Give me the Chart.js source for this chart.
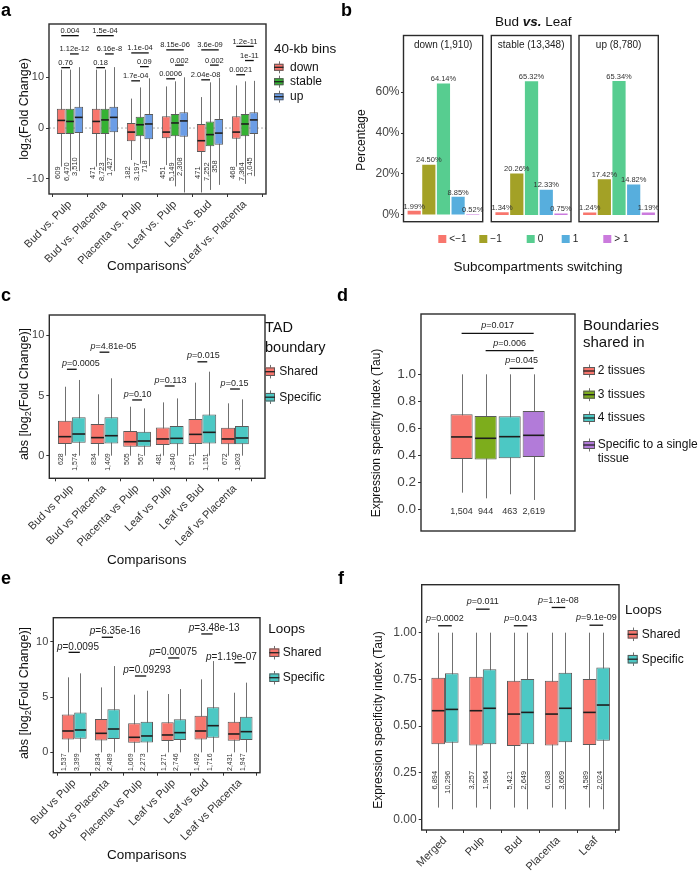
<!DOCTYPE html>
<html>
<head>
<meta charset="utf-8">
<title>Bins, TAD boundaries and loops</title>
<script src="https://cdn.jsdelivr.net/npm/chart.js@4.4.1/dist/chart.umd.min.js"></script>
<style>
  html, body { margin: 0; padding: 0; background: #fff; }
  #figure { position: relative; width: 699px; height: 877px; overflow: hidden; }
  #figure canvas { position: absolute; left: 0; top: 0; }
</style>
</head>
<body>
<div id="figure"></div>
<script>
// ---- a: log2 fold change by 40-kb bin class ----
const aComparisons = ['Bud vs. Pulp', 'Bud vs. Placenta', 'Placenta vs. Pulp', 'Leaf vs. Pulp', 'Leaf vs. Bud', 'Leaf vs. Placenta'];
const aBins = ['down', 'stable', 'up'];
// box stats per comparison: [lower whisker, q1, median, q3, upper whisker]
const aDown = [[-7.6, -1.2, 1.5, 3.8, 11.5], [-7.6, -1.2, 1.3, 3.8, 11.5], [-6.3, -2.6, -0.8, 1.0, 5.8], [-7.3, -2.0, -0.8, 2.3, 8.2], [-12.7, -4.7, -2.5, 0.8, 6.1], [-7.6, -2.1, -0.8, 2.3, 8.4]];
const aStable = [[-8.5, -1.2, 1.3, 3.8, 11.5], [-8.5, -1.2, 1.6, 3.8, 11.5], [-7.0, -1.6, 0.65, 2.2, 8.0], [-11.5, -1.6, 1.0, 2.75, 9.2], [-12.2, -3.6, -1.3, 1.3, 9.0], [-11.0, -1.6, 0.8, 2.75, 9.2]];
const aUp = [[-8.5, -1.0, 2.1, 4.2, 12.0], [-8.5, -0.85, 2.1, 4.2, 12.0], [-7.5, -2.2, 0.8, 2.75, 9.8], [-12.7, -1.7, 1.4, 3.1, 10.0], [-11.2, -3.3, -1.0, 1.8, 9.9], [-9.5, -1.2, 1.6, 3.1, 9.3]];
const aDownN = ['609', '471', '182', '451', '471', '468'];
const aStableN = ['6,470', '8,723', '3,197', '5,149', '7,252', '7,364'];
const aUpN = ['3,510', '1,427', '718', '2,308', '358', '1,045'];
const aTicks = [-10, 0, 10];
// [comparison, from bin, to bin, bracket height, p-value]
const aPvals = [
  [0, 0, 2, 18.2, '0.004'], [0, 1, 2, 14.6, '1.12e-12'], [0, 0, 1, 11.9, '0.76'],
  [1, 0, 2, 18.2, '1.5e-04'], [1, 1, 2, 14.6, '6.16e-8'], [1, 0, 1, 11.9, '0.18'],
  [2, 0, 2, 14.8, '1.1e-04'], [2, 1, 2, 12.1, '0.09'], [2, 0, 1, 9.3, '1.7e-04'],
  [3, 0, 2, 15.4, '8.15e-06'], [3, 1, 2, 12.4, '0.002'], [3, 0, 1, 9.7, '0.0006'],
  [4, 0, 2, 15.4, '3.6e-09'], [4, 1, 2, 12.4, '0.002'], [4, 0, 1, 9.5, '2.04e-08'],
  [5, 0, 2, 16.1, '1.2e-11'], [5, 1, 2, 13.3, '1e-11'], [5, 0, 1, 10.5, '0.0021']
];

// ---- b: subcompartment switching, Bud vs. Leaf ----
const bLevels = ['<\u22121', '\u22121', '0', '1', '> 1'];
const bFacets = ['down (1,910)', 'stable (13,348)', 'up (8,780)'];
const bDown = [1.99, 24.50, 64.14, 8.85, 0.52];
const bStable = [1.34, 20.26, 65.32, 12.33, 0.75];
const bUp = [1.24, 17.42, 65.34, 14.82, 1.19];
const bTicks = [0, 20, 40, 60];

// ---- c: TAD boundaries ----
const cComparisons = ['Bud vs Pulp', 'Bud vs Placenta', 'Placenta vs Pulp', 'Leaf vs Pulp', 'Leaf vs Bud', 'Leaf vs Placenta'];
const cGroups = ['Shared', 'Specific'];
const cShared = [[0, 0.97, 1.58, 2.91, 5.73], [0, 0.97, 1.50, 2.63, 5.10], [0, 0.75, 1.16, 2.05, 4.07], [0, 0.89, 1.39, 2.35, 4.43], [0, 0.97, 1.77, 3.05, 6.07], [0, 0.94, 1.39, 2.33, 4.35]];
const cSpecific = [[0, 1.08, 1.80, 3.20, 6.29], [0, 1.02, 1.66, 3.20, 6.43], [0, 0.75, 1.22, 1.99, 3.93], [0, 0.94, 1.44, 2.47, 4.76], [0, 1.02, 1.94, 3.43, 6.98], [0, 0.94, 1.47, 2.47, 4.68]];
const cSharedN = ['628', '834', '505', '481', '571', '672'];
const cSpecificN = ['1,574', '1,409', '567', '1,840', '1,151', '1,803'];
const cTicks = [0, 5, 10];
// [comparison, bracket height, p-value, label start relative to comparison]
const cPvals = [[0, 7.18, '0.0005', -0.3], [1, 8.6, '4.81e-05', -0.43], [2, 4.63, '0.10', -0.41], [3, 5.79, '0.113', -0.47], [4, 7.8, '0.015', -0.47], [5, 5.54, '0.15', -0.44]];

// ---- d: boundaries shared in n tissues ----
const dGroups = ['2 tissues', '3 tissues', '4 tissues', 'Specific to a single\ntissue'];
const dStats = [[0.123, 0.373, 0.536, 0.704, 1.0], [0.081, 0.368, 0.526, 0.691, 1.0], [0.111, 0.378, 0.538, 0.689, 1.0], [0.069, 0.388, 0.548, 0.728, 1.0]];
const dN = ['1,504', '944', '463', '2,619'];
const dTicks = [0, 0.2, 0.4, 0.6, 0.8, 1.0];
// [from group, to group, bracket height, p-value]
const dPvals = [[0, 3, 1.304, '0.017'], [1, 3, 1.175, '0.006'], [2, 3, 1.044, '0.045']];

// ---- e: loops, fold change ----
const eComparisons = cComparisons;
const eShared = [[0, 1.17, 1.93, 3.43, 6.78], [0, 1.08, 1.72, 3.01, 5.87], [0, 0.87, 1.36, 2.62, 5.21], [0, 1.02, 1.57, 2.71, 5.27], [0, 1.17, 1.93, 3.31, 6.60], [0, 1.05, 1.66, 2.77, 5.39]];
const eSpecific = [[0, 1.23, 2.02, 3.61, 7.14], [0, 1.20, 2.11, 3.89, 7.80], [0, 0.90, 1.48, 2.77, 5.57], [0, 1.11, 1.78, 2.98, 5.72], [0, 1.33, 2.41, 4.07, 8.25], [0, 1.11, 1.87, 3.22, 6.30]];
const eSharedN = ['1,537', '2,834', '1,069', '1,271', '1,492', '2,431'];
const eSpecificN = ['3,399', '2,489', '2,273', '2,746', '1,716', '1,947'];
const eTicks = [0, 5, 10];
const ePvals = [[0, 9.04, '0.0095', -0.52], [1, 10.4, '6.35e-16', -0.53], [2, 6.9, '0.09293', -0.52], [3, 8.53, '0.00075', -0.73], [4, 10.7, '3.48e-13', -0.55], [5, 8.1, '1.19e-07', -1.03]];

// ---- f: loops, tissue specificity ----
const fTissues = ['Merged', 'Pulp', 'Bud', 'Placenta', 'Leaf'];
const fShared = [[0.063, 0.402, 0.582, 0.759, 1.0], [0.063, 0.395, 0.582, 0.764, 1.0], [0.063, 0.393, 0.564, 0.743, 1.0], [0.063, 0.395, 0.564, 0.743, 1.0], [0.063, 0.398, 0.573, 0.752, 1.0]];
const fSpecific = [[0.054, 0.411, 0.589, 0.782, 1.0], [0.054, 0.402, 0.595, 0.804, 1.0], [0.054, 0.402, 0.573, 0.752, 1.0], [0.054, 0.4125, 0.595, 0.786, 1.0], [0.054, 0.421, 0.6125, 0.814, 1.0]];
const fSharedN = ['6,894', '3,257', '5,421', '6,038', '4,589'];
const fSpecificN = ['10,296', '1,964', '2,649', '3,669', '2,024'];
const fTicks = [0, 0.25, 0.5, 0.75, 1.0];
const fPvals = [[0, 1.037, '0.0002'], [1, 1.126, '0.011'], [2, 1.037, '0.043'], [3, 1.135, '1.1e-08'], [4, 1.04, '9.1e-09']];

const RED = '#F8766D', TEAL = '#4CC8C4';
const aColors = [RED, '#35B233', '#6B9DE6'];
const bColors = [RED, '#A3A126', '#57CD90', '#57AEDD', '#CB7BDD'];
const dColors = [RED, '#7DAD1C', '#4CC8C4', '#B27BD9'];

const FONT = '"Liberation Sans", Arial, Helvetica, sans-serif';
const W = 699, H = 877;
const figure = document.getElementById('figure');
Chart.defaults.font.family = FONT;

function addCanvas() {
  const c = document.createElement('canvas');
  c.width = W;
  c.height = H;
  figure.appendChild(c);
  return c;
}

// draws one line made of several text runs (for italics and subscripts)
function runs(ctx, parts, x, y, opt = {}) {
  ctx.save();
  ctx.fillStyle = opt.color || '#111';
  ctx.textBaseline = opt.base || 'middle';
  ctx.textAlign = 'left';
  const fonts = parts.map(p => `${p.style || ''} ${p.size || opt.size || 12}px ${FONT}`);
  let total = 0;
  const widths = parts.map((p, i) => {
    ctx.font = fonts[i];
    const w = ctx.measureText(p.t).width;
    total += w;
    return w;
  });
  ctx.translate(x, y);
  if (opt.rot) ctx.rotate(opt.rot);
  let cx = opt.align === 'center' ? -total / 2 : opt.align === 'right' ? -total : 0;
  parts.forEach((p, i) => {
    ctx.font = fonts[i];
    ctx.fillText(p.t, cx, p.dy || 0);
    cx += widths[i];
  });
  ctx.restore();
}

function text(ctx, s, x, y, opt = {}) {
  runs(ctx, [{t: s, style: opt.style}], x, y, opt);
}

function pText(label) {
  return [{t: 'p', style: 'italic'}, {t: '=' + label}];
}

function hline(ctx, x1, x2, y) {
  ctx.save();
  ctx.strokeStyle = '#111';
  ctx.lineWidth = 1.3;
  ctx.beginPath();
  ctx.moveTo(x1, y);
  ctx.lineTo(x2, y);
  ctx.stroke();
  ctx.restore();
}

// legend key that looks like a tiny boxplot
function boxKey(ctx, x, y, w, h, color) {
  const cx = Math.round(x + w / 2) + 0.5;
  ctx.save();
  ctx.strokeStyle = '#6f6f6f';
  ctx.lineWidth = 1;
  ctx.beginPath();
  ctx.moveTo(cx, y - h / 2 - 2.5);
  ctx.lineTo(cx, y + h / 2 + 2.5);
  ctx.stroke();
  ctx.fillStyle = color;
  ctx.fillRect(x, y - h / 2, w, h);
  ctx.strokeStyle = '#5a5a5a';
  ctx.strokeRect(x + 0.5, y - h / 2 + 0.5, w - 1, h - 1);
  ctx.strokeStyle = '#222';
  ctx.lineWidth = 1.3;
  ctx.beginPath();
  ctx.moveTo(x, y);
  ctx.lineTo(x + w, y);
  ctx.stroke();
  ctx.restore();
}

function letter(ctx, s, x, y) {
  text(ctx, s, x, y, {size: 18, style: 'bold', base: 'alphabetic', color: '#000'});
}

function minusFmt(v) {
  return String(v).replace('-', '\u2212');
}

function frame(chart) {
  const ctx = chart.ctx, a = chart.chartArea;
  ctx.save();
  ctx.strokeStyle = '#2b2b2b';
  ctx.lineWidth = 1.4;
  ctx.strokeRect(a.left, a.top, a.right - a.left, a.bottom - a.top);
  ctx.restore();
}

// rotated sample sizes under the boxes
function counts(chart, lists, at, align, size) {
  const y = chart.scales.y;
  lists.forEach((ns, i) => ns.forEach((n, j) => {
    const bar = chart.getDatasetMeta(i).data[j];
    const v = Array.isArray(at) ? at[i] : at;
    text(chart.ctx, n, bar.x - 1.5, y.getPixelForValue(v), {size, align, base: 'alphabetic', rot: -Math.PI / 2, color: '#333'});
  }));
}

function boxChart(cfg) {
  const [l, t, r, b] = cfg.frame;
  const showX = !!cfg.cats;
  const xH = showX ? cfg.xAxisH : 0;
  const datasets = cfg.series.map((s, i) => ({
    label: cfg.names[i],
    data: s.map((v, j) => ({x: cfg.xs ? cfg.xs[i] : j + 1, y: [v[1], v[3]]})),
    backgroundColor: cfg.colors[i],
    borderColor: '#5a5a5a',
    borderWidth: 1,
    borderSkipped: false,
    grouped: !cfg.xs,
    categoryPercentage: cfg.catPct,
    barPercentage: cfg.barPct || 1
  }));
  const plugin = {
    id: 'box_' + cfg.id,
    beforeDatasetsDraw(chart) {
      const ctx = chart.ctx, y = chart.scales.y;
      if (cfg.before) cfg.before(chart, ctx);
      ctx.save();
      ctx.strokeStyle = '#707070';
      ctx.lineWidth = 1;
      cfg.series.forEach((s, i) => chart.getDatasetMeta(i).data.forEach((bar, j) => {
        const x = Math.round(bar.x) + 0.5;
        ctx.beginPath();
        ctx.moveTo(x, y.getPixelForValue(s[j][0]));
        ctx.lineTo(x, y.getPixelForValue(s[j][4]));
        ctx.stroke();
      }));
      ctx.restore();
    },
    afterDatasetsDraw(chart) {
      const ctx = chart.ctx, y = chart.scales.y;
      ctx.save();
      ctx.strokeStyle = '#1e1e1e';
      ctx.lineWidth = 1.6;
      cfg.series.forEach((s, i) => chart.getDatasetMeta(i).data.forEach((bar, j) => {
        const py = y.getPixelForValue(s[j][2]);
        ctx.beginPath();
        ctx.moveTo(bar.x - bar.width / 2 + 0.5, py);
        ctx.lineTo(bar.x + bar.width / 2 - 0.5, py);
        ctx.stroke();
      }));
      ctx.restore();
    },
    afterDraw(chart) {
      frame(chart);
      cfg.after(chart, chart.ctx);
    }
  };
  return new Chart(addCanvas(), {
    type: 'bar',
    data: {datasets},
    options: {
      responsive: false,
      animation: false,
      events: [],
      layout: {padding: {left: l - cfg.yAxisW, top: t, right: W - r, bottom: H - b - xH}},
      plugins: {legend: {display: false}, tooltip: {enabled: false}},
      scales: {
        x: {
          type: 'linear', min: cfg.xMin, max: cfg.xMax, bounds: 'data', offset: false, display: showX,
          afterBuildTicks: s => { s.ticks = (cfg.cats || cfg.xs).map((c, i) => ({value: i + 1})); },
          afterFit: s => { if (showX) s.height = xH; },
          ticks: {
            autoSkip: false, minRotation: 45, maxRotation: 45, padding: 1, color: '#333',
            font: {size: cfg.xFont || 11},
            callback: v => cfg.cats ? cfg.cats[Math.round(v) - 1] : ''
          },
          grid: {drawOnChartArea: false, drawTicks: true, tickLength: 3, color: '#333'},
          border: {display: false}
        },
        y: {
          min: cfg.yMin, max: cfg.yMax, bounds: 'data',
          afterBuildTicks: s => { s.ticks = cfg.yTicks.map(v => ({value: v})); },
          afterFit: s => { s.width = cfg.yAxisW; },
          ticks: {padding: 2, color: '#444', font: {size: cfg.yFont || 11}, callback: cfg.yFmt || minusFmt},
          grid: {drawOnChartArea: false, drawTicks: true, tickLength: 3, color: '#333'},
          border: {display: false}
        }
      }
    },
    plugins: [plugin]
  });
}

const yLog2 = [{t: 'log', size: 12.5}, {t: '2', size: 9, dy: 3.5}, {t: '(Fold Change)', size: 12.5}];
const yAbsLog2 = [{t: 'abs [log', size: 12.5}, {t: '2', size: 9, dy: 3.5}, {t: '(Fold Change)]', size: 12.5}];

// ---------- a ----------
boxChart({
  id: 'a', frame: [49, 24, 266, 194], yAxisW: 22, xAxisH: 70,
  xMin: 0.4, xMax: 6.6, yMin: -13.0, yMax: 20.5, yTicks: aTicks,
  cats: aComparisons, names: aBins, series: [aDown, aStable, aUp], colors: aColors, catPct: 0.75,
  before(chart, ctx) {
    const a = chart.chartArea, py = chart.scales.y.getPixelForValue(0);
    ctx.save();
    ctx.strokeStyle = '#9a9a9a';
    ctx.lineWidth = 0.8;
    ctx.setLineDash([2, 2]);
    ctx.beginPath();
    ctx.moveTo(a.left, py);
    ctx.lineTo(a.right, py);
    ctx.stroke();
    ctx.restore();
  },
  after(chart, ctx) {
    const y = chart.scales.y;
    aPvals.forEach(([g, s1, s2, h, lab]) => {
      const x1 = chart.getDatasetMeta(s1).data[g].x, x2 = chart.getDatasetMeta(s2).data[g].x;
      const py = y.getPixelForValue(h);
      hline(ctx, x1, x2, py);
      text(ctx, lab, (x1 + x2) / 2, py - 2.5, {size: 7.5, align: 'center', base: 'alphabetic', color: '#222'});
    });
    counts(chart, [aDownN, aStableN, aUpN], [-8.8, -8.6, -7.6], 'center', 7.5);
    runs(ctx, yLog2, 25, 109, {align: 'center', rot: -Math.PI / 2});
    text(ctx, 'Comparisons', 146.7, 266.7, {size: 13.5, align: 'center'});
    text(ctx, '40-kb bins', 274, 49, {size: 13.5});
    [67.3, 81.7, 96.7].forEach((yc, i) => {
      boxKey(ctx, 274, yc, 9.5, 7, aColors[i]);
      text(ctx, aBins[i], 290, yc, {size: 12});
    });
    letter(ctx, 'a', 1, 16);
  }
});

// ---------- b ----------
const bFrames = [[403.5, 35.5, 482.7, 221.7], [491.3, 35.5, 571, 221.7], [579, 35.5, 658.3, 221.7]];
[bDown, bStable, bUp].forEach((vals, k) => {
  const [l, t, r, bt] = bFrames[k];
  const yW = k === 0 ? 28 : 0;
  new Chart(addCanvas(), {
    type: 'bar',
    data: {
      labels: bLevels,
      datasets: [{
        label: bFacets[k],
        data: vals.map((v, i) => ({x: i + 1, y: v})),
        backgroundColor: bColors,
        categoryPercentage: 1,
        barPercentage: 0.9
      }]
    },
    options: {
      responsive: false, animation: false, events: [],
      layout: {padding: {left: l - yW, top: t, right: W - r, bottom: H - bt}},
      plugins: {legend: {display: false}, tooltip: {enabled: false}},
      scales: {
        x: {
          type: 'linear', min: 0.27, max: 5.68, bounds: 'data', offset: false, display: false,
          afterBuildTicks: s => { s.ticks = bLevels.map((c, i) => ({value: i + 1})); }
        },
        y: {
          min: -3.3, max: 87.6, bounds: 'data', display: k === 0,
          afterBuildTicks: s => { s.ticks = bTicks.map(v => ({value: v})); },
          afterFit: s => { s.width = yW; },
          ticks: {padding: 1.5, color: '#444', font: {size: 12}, callback: v => v + '%'},
          grid: {drawOnChartArea: false, drawTicks: true, tickLength: 2.5, color: '#333'},
          border: {display: false}
        }
      }
    },
    plugins: [{
      id: 'facet' + k,
      afterDraw(chart) {
        const ctx = chart.ctx, a = chart.chartArea;
        frame(chart);
        text(ctx, bFacets[k], (a.left + a.right) / 2, 45, {size: 10, align: 'center', color: '#222'});
        chart.getDatasetMeta(0).data.forEach((bar, i) => {
          text(ctx, vals[i].toFixed(2) + '%', bar.x, bar.y - 2.3, {size: 7.5, align: 'center', base: 'alphabetic', color: '#333'});
        });
        if (k === 0) {
          runs(ctx, [{t: 'Bud ', size: 13.5}, {t: 'vs.', size: 13.5, style: 'italic bold'}, {t: ' Leaf', size: 13.5}], 533.3, 22.7, {align: 'center'});
          text(ctx, 'Percentage', 361.7, 140, {size: 12, align: 'center', rot: -Math.PI / 2});
          text(ctx, 'Subcompartments switching', 538, 267, {size: 13.5, align: 'center'});
          const kx = [438.3, 479.3, 526.7, 561.7, 603.3];
          bLevels.forEach((lev, i) => {
            ctx.fillStyle = bColors[i];
            ctx.fillRect(kx[i], 235, 8, 8);
            text(ctx, lev, kx[i] + 11, 239.5, {size: 10, color: '#222'});
          });
          letter(ctx, 'b', 341, 16);
        }
      }
    }]
  });
});

// ---------- c ----------
boxChart({
  id: 'c', frame: [49.3, 315, 265, 478.3], yAxisW: 22, xAxisH: 70,
  xMin: 0.31, xMax: 6.92, yMin: -1.88, yMax: 11.69, yTicks: cTicks,
  cats: cComparisons, names: cGroups, series: [cShared, cSpecific], colors: [RED, TEAL], catPct: 0.85,
  after(chart, ctx) {
    const x = chart.scales.x, y = chart.scales.y;
    cPvals.forEach(([g, h, lab, tx]) => {
      const py = y.getPixelForValue(h);
      hline(ctx, x.getPixelForValue(g + 0.85), x.getPixelForValue(g + 1.15), py);
      runs(ctx, pText(lab), x.getPixelForValue(g + 1 + tx), py - 3.4, {size: 9, base: 'alphabetic', color: '#222'});
    });
    counts(chart, [cSharedN, cSpecificN], 0.2, 'right', 7);
    runs(ctx, yAbsLog2, 25, 394, {align: 'center', rot: -Math.PI / 2});
    text(ctx, 'Comparisons', 146.7, 560, {size: 13.5, align: 'center'});
    text(ctx, 'TAD', 265, 328.3, {size: 14.5});
    text(ctx, 'boundary', 265, 348.3, {size: 14.5});
    [371.7, 397.2].forEach((yc, i) => {
      boxKey(ctx, 265, yc, 10, 8.5, [RED, TEAL][i]);
      text(ctx, cGroups[i], 279.3, yc, {size: 12});
    });
    letter(ctx, 'c', 1, 301);
  }
});

// ---------- d ----------
boxChart({
  id: 'd', frame: [421, 314, 575, 531], yAxisW: 30,
  xMin: -0.69, xMax: 5.72, yMin: -0.161, yMax: 1.447, yTicks: dTicks, yFont: 13.5,
  yFmt: v => v.toFixed(1),
  xs: [1, 2, 3, 4], names: dGroups, series: dStats.map(s => [s]), colors: dColors, catPct: 1, barPct: 0.92,
  after(chart, ctx) {
    const y = chart.scales.y;
    const cx = i => chart.getDatasetMeta(i).data[0].x;
    dPvals.forEach(([g1, g2, h, lab]) => {
      const py = y.getPixelForValue(h);
      hline(ctx, cx(g1), cx(g2), py);
      runs(ctx, pText(lab), (cx(g1) + cx(g2)) / 2, py - 5, {size: 9, align: 'center', base: 'alphabetic', color: '#222'});
    });
    dN.forEach((n, i) => text(ctx, n, cx(i), y.getPixelForValue(-0.018), {size: 9, align: 'center', color: '#333'}));
    text(ctx, 'Expression specifity index (Tau)', 376.7, 433, {size: 12, align: 'center', rot: -Math.PI / 2});
    text(ctx, 'Boundaries', 583, 326, {size: 15});
    text(ctx, 'shared in', 583, 343, {size: 15});
    [371, 394.7, 418, 445].forEach((yc, i) => {
      boxKey(ctx, 583.3, yc, 11.7, 8, dColors[i]);
      dGroups[i].split('\n').forEach((line, li) => text(ctx, line, 597.7, yc + li * 13.3, {size: 12}));
    });
    letter(ctx, 'd', 337, 301);
  }
});

// ---------- e ----------
boxChart({
  id: 'e', frame: [53.3, 617.7, 260, 772.7], yAxisW: 22, xAxisH: 70,
  xMin: 0.37, xMax: 6.6, yMin: -1.84, yMax: 12.17, yTicks: eTicks,
  cats: eComparisons, names: cGroups, series: [eShared, eSpecific], colors: [RED, TEAL], catPct: 0.75,
  after(chart, ctx) {
    const x = chart.scales.x, y = chart.scales.y;
    ePvals.forEach(([g, h, lab, tx]) => {
      const py = y.getPixelForValue(h);
      hline(ctx, x.getPixelForValue(g + 0.83), x.getPixelForValue(g + 1.17), py);
      runs(ctx, pText(lab), x.getPixelForValue(g + 1 + tx), py - 2.8, {size: 10, base: 'alphabetic', color: '#222'});
    });
    counts(chart, [eSharedN, eSpecificN], -0.1, 'right', 7);
    runs(ctx, yAbsLog2, 25, 693, {align: 'center', rot: -Math.PI / 2});
    text(ctx, 'Comparisons', 146.7, 855, {size: 13.5, align: 'center'});
    text(ctx, 'Loops', 268.3, 629, {size: 13.5});
    [652.7, 677.7].forEach((yc, i) => {
      boxKey(ctx, 269.3, yc, 10, 8.5, [RED, TEAL][i]);
      text(ctx, cGroups[i], 282.7, yc, {size: 12});
    });
    letter(ctx, 'e', 1, 584);
  }
});

// ---------- f ----------
boxChart({
  id: 'f', frame: [421.7, 584.7, 619, 830], yAxisW: 32, xAxisH: 60, yFont: 12,
  xMin: 0.385, xMax: 5.6, yMin: -0.057, yMax: 1.257, yTicks: fTicks,
  yFmt: v => v.toFixed(2),
  cats: fTissues, names: cGroups, series: [fShared, fSpecific], colors: [RED, TEAL], catPct: 0.72,
  after(chart, ctx) {
    const y = chart.scales.y;
    fPvals.forEach(([g, h, lab]) => {
      const x1 = chart.getDatasetMeta(0).data[g].x, x2 = chart.getDatasetMeta(1).data[g].x;
      const py = y.getPixelForValue(h);
      hline(ctx, x1, x2, py);
      runs(ctx, pText(lab), (x1 + x2) / 2, py - 4.8, {size: 9, align: 'center', base: 'alphabetic', color: '#222'});
    });
    counts(chart, [fSharedN, fSpecificN], 0.26, 'right', 7.5);
    text(ctx, 'Expression specificity index (Tau)', 378.3, 720, {size: 12, align: 'center', rot: -Math.PI / 2});
    text(ctx, 'Loops', 625, 610, {size: 13.5});
    [634.3, 659.2].forEach((yc, i) => {
      boxKey(ctx, 627.7, yc, 10, 8.5, [RED, TEAL][i]);
      text(ctx, cGroups[i], 641.7, yc, {size: 12});
    });
    letter(ctx, 'f', 338, 584);
  }
});
</script>
</body>
</html>
